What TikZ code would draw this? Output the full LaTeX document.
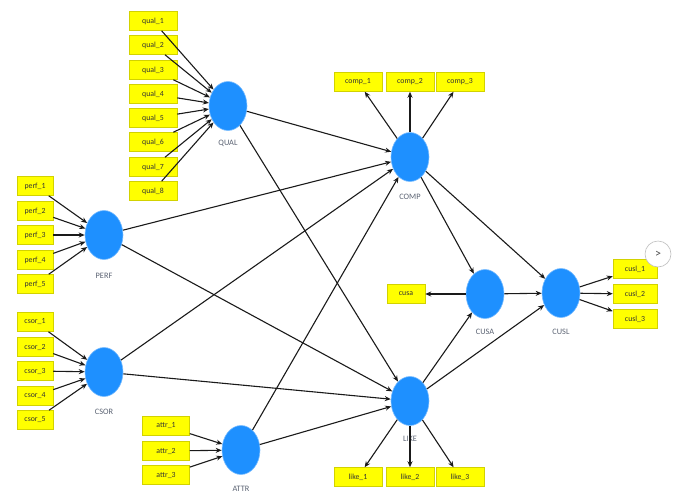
\documentclass[tikz,border=0pt]{standalone}
\usepackage{fontspec}
\setmainfont{Carlito}
\usetikzlibrary{shapes.geometric,arrows.meta}
\definecolor{lvblue}{HTML}{1E90FF}
\definecolor{boxyellow}{HTML}{FFFF00}
\definecolor{boxedge}{HTML}{D2D200}
\definecolor{lblgray}{HTML}{5A6272}
\definecolor{linecol}{HTML}{1A1A1A}
\begin{document}
\begin{tikzpicture}[x=1pt,y=-1pt,
 latent/.style={ellipse,fill=lvblue,draw=lvblue!60!white,line width=0.6pt,minimum width=38pt,minimum height=49pt,inner sep=0pt},
 ind/.style={rectangle,fill=boxyellow,draw=boxedge,line width=0.5pt,minimum height=19pt,inner sep=0pt,font=\fontsize{7.8}{9}\selectfont,text=black!80},
 lbl/.style={font=\fontsize{8.3}{10}\selectfont,text=lblgray},
 conn/.style={draw=linecol,line width=1.1pt,-{Stealth[length=6pt,width=5pt]}}
]
\useasboundingbox (0,0) rectangle (680,501);
% latent variables
\node[latent] (QUAL) at (228,106) {};
\node[latent] (PERF) at (104,235) {};
\node[latent] (CSOR) at (104,372) {};
\node[latent] (ATTR) at (241,450) {};
\node[latent] (COMP) at (410,157) {};
\node[latent] (LIKE) at (410,401) {};
\node[latent] (CUSA) at (485,294) {};
\node[latent] (CUSL) at (561,293) {};
% labels
\node[lbl] (lQUAL) at (228,143) {QUAL};
\node[lbl] (lPERF) at (104,276) {PERF};
\node[lbl] (lCSOR) at (104,412) {CSOR};
\node[lbl] (lATTR) at (241,489) {ATTR};
\node[lbl] (lCOMP) at (410,197) {COMP};
\node[lbl] (lLIKE) at (410,439) {LIKE};
\node[lbl] (lCUSA) at (485,332) {CUSA};
\node[lbl] (lCUSL) at (561,332) {CUSL};
% qual indicators
\foreach \i/\y in {1/21,2/45,3/70,4/94,5/118,6/142,7/167,8/191}
  \node[ind,minimum width=48pt] (qual\i) at (153,\y) {qual\_\i};
\foreach \i/\y in {1/186,2/211,3/235,4/260,5/284}
  \node[ind,minimum width=36pt] (perf\i) at (35,\y) {perf\_\i};
\foreach \i/\y in {1/322,2/347,3/371,4/396,5/420}
  \node[ind,minimum width=36pt] (csor\i) at (35,\y) {csor\_\i};
\foreach \i/\y in {1/426,2/451,3/475}
  \node[ind,minimum width=47pt] (attr\i) at (166,\y) {attr\_\i};
\foreach \i/\x in {1/358,2/410,3/460}
  \node[ind,minimum width=48pt] (comp\i) at (\x,82) {comp\_\i};
\foreach \i/\x in {1/358,2/410,3/460}
  \node[ind,minimum width=48pt] (like\i) at (\x,477) {like\_\i};
\foreach \i/\y in {1/269,2/294,3/319}
  \node[ind,minimum width=44pt] (cusl\i) at (635,\y) {cusl\_\i};
\node[ind,minimum width=38pt] (cusa) at (406,294) {cusa};
% measurement arrows
\foreach \i in {1,...,8} \draw[conn] (qual\i) -- (QUAL);
\foreach \i in {1,...,5} \draw[conn] (perf\i) -- (PERF);
\foreach \i in {1,...,5} \draw[conn] (csor\i) -- (CSOR);
\foreach \i in {1,...,3} \draw[conn] (attr\i) -- (ATTR);
\foreach \i in {1,...,3} \draw[conn] (COMP) -- (comp\i);
\foreach \i in {1,...,3} \draw[conn] (LIKE) -- (like\i);
\foreach \i in {1,...,3} \draw[conn] (CUSL) -- (cusl\i);
\draw[conn] (CUSA) -- (cusa);
% structural arrows
\foreach \s in {QUAL,PERF,CSOR,ATTR} {
  \draw[conn] (\s) -- (COMP);
  \draw[conn] (\s) -- (LIKE);
}
\draw[conn] (COMP) -- (CUSA);
\draw[conn] (COMP) -- (CUSL);
\draw[conn] (LIKE) -- (CUSA);
\draw[conn] (LIKE) -- (CUSL);
\draw[conn] (CUSA) -- (CUSL);
% carousel button
\node[circle,draw=black!25,fill=white,line width=0.6pt,minimum size=26pt,inner sep=0pt,text=black!70,font=\fontsize{12}{12}\selectfont] (nextbtn) at (658,254) {>};
\end{tikzpicture}
\end{document}
